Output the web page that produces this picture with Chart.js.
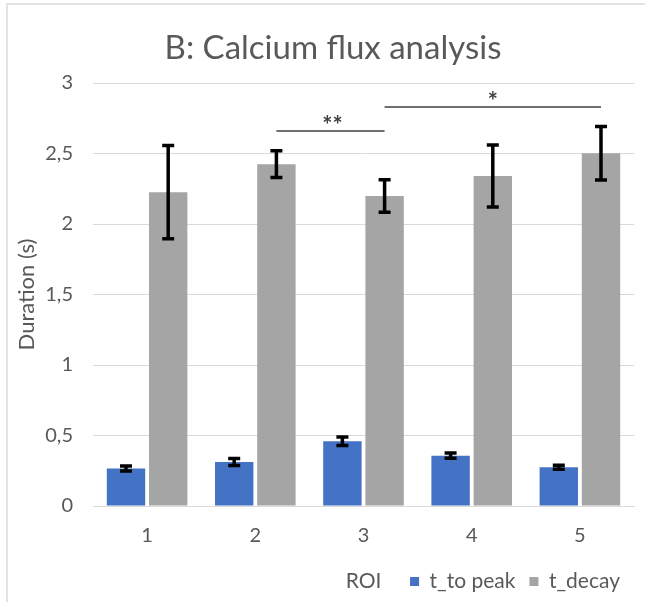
<!DOCTYPE html>
<html>
<head>
<meta charset="utf-8">
<script src="https://cdn.jsdelivr.net/npm/chart.js@4.4.1/dist/chart.umd.min.js"></script>
<style>
  html, body { margin: 0; padding: 0; background: #ffffff; }
  #wrap { position: absolute; left: 0; top: 0; width: 645px; height: 602px; }
  #frame { position: absolute; left: 6px; top: 3px; width: 645px; height: 610px;
           border-left: 2px solid #e3e3e3; border-top: 2px solid #e3e3e3; box-sizing: border-box; }
  canvas { position: absolute; left: 0; top: 0; }
</style>
</head>
<body>
<div id="wrap">
  <div id="frame"></div>
  <canvas id="c" width="645" height="602"></canvas>
</div>
<script>
// ROI categories
const roiLabels = ['1', '2', '3', '4', '5'];

// Mean durations (s)
const tToPeak = [0.266, 0.312, 0.459, 0.357, 0.275];
const tDecay  = [2.226, 2.424, 2.198, 2.340, 2.502];

// Symmetric error bar half-widths (s)
const tToPeakErr = [0.018, 0.024, 0.030, 0.019, 0.014];
const tDecayErr  = [0.330, 0.095, 0.115, 0.220, 0.190];

// Significance brackets: from category index to category index, at height (s)
const sigFrom   = [1, 2];
const sigTo     = [2, 4];
const sigLevel  = [2.663, 2.833];
const sigLabel  = ['**', '*'];

const chartTitle = 'B: Calcium flux analysis';
const xTitle = 'ROI';

const textGrey = '#595959';
const fontFam = 'Lato, "Open Sans", sans-serif';

const errorBarPlugin = {
  id: 'errorBars',
  afterDatasetsDraw(chart) {
    const ctx = chart.ctx;
    const y = chart.scales.y;
    const errs = [tToPeakErr, tDecayErr];
    ctx.save();
    ctx.strokeStyle = '#000000';
    ctx.lineWidth = 3.5;
    chart.data.datasets.forEach((ds, di) => {
      const meta = chart.getDatasetMeta(di);
      meta.data.forEach((bar, i) => {
        const v = ds.data[i];
        const e = errs[di][i];
        const x = bar.x;
        const yt = y.getPixelForValue(v + e);
        const yb = y.getPixelForValue(v - e);
        const cap = 6;
        ctx.beginPath();
        ctx.moveTo(x, yt); ctx.lineTo(x, yb);
        ctx.moveTo(x - cap, yt); ctx.lineTo(x + cap, yt);
        ctx.moveTo(x - cap, yb); ctx.lineTo(x + cap, yb);
        ctx.stroke();
      });
    });
    ctx.restore();
  }
};

const sigPlugin = {
  id: 'significance',
  afterDatasetsDraw(chart) {
    const ctx = chart.ctx;
    const y = chart.scales.y;
    const decayBars = chart.getDatasetMeta(1).data;
    ctx.save();
    ctx.strokeStyle = '#6f6f6f';
    ctx.lineWidth = 2;
    ctx.fillStyle = '#404040';
    ctx.font = 'bold 24px ' + fontFam;
    ctx.textAlign = 'center';
    ctx.textBaseline = 'middle';
    sigLabel.forEach((lab, k) => {
      const x1 = decayBars[sigFrom[k]].x;
      const x2 = decayBars[sigTo[k]].x;
      const py = Math.round(y.getPixelForValue(sigLevel[k]));
      ctx.beginPath();
      ctx.moveTo(x1, py); ctx.lineTo(x2, py);
      ctx.stroke();
      ctx.fillText(lab, (x1 + x2) / 2 + (lab === '**' ? 2 : 0), py - 5);
    });
    ctx.restore();
  }
};

// Chart title above the plot, and the "ROI" axis title on the legend row
const titlesPlugin = {
  id: 'titles',
  afterDraw(chart) {
    const ctx = chart.ctx;
    const ca = chart.chartArea;
    ctx.save();
    ctx.fillStyle = textGrey;
    ctx.textAlign = 'center';
    ctx.textBaseline = 'middle';
    ctx.font = '33px ' + fontFam;
    ctx.fillText(chartTitle, 333, 48);
    const lg = chart.legend;
    if (lg && lg.legendHitBoxes && lg.legendHitBoxes.length) {
      const hb = lg.legendHitBoxes[0];
      ctx.font = '21px ' + fontFam;
      ctx.fillText(xTitle, (ca.left + ca.right) / 2, hb.top + hb.height / 2);
    }
    ctx.restore();
  }
};

new Chart(document.getElementById('c'), {
  type: 'bar',
  data: {
    labels: roiLabels,
    datasets: [
      { label: 't_to peak', data: tToPeak, backgroundColor: '#4472c4',
        categoryPercentage: 0.78, barPercentage: 0.91 },
      { label: 't_decay', data: tDecay, backgroundColor: '#a5a5a5',
        categoryPercentage: 0.78, barPercentage: 0.91 }
    ]
  },
  options: {
    responsive: false,
    animation: false,
    layout: { padding: { left: 14, right: 11, top: 83, bottom: 0 } },
    plugins: {
      title: { display: false },
      legend: {
        position: 'bottom',
        align: 'end',
        labels: {
          color: textGrey,
          font: { family: fontFam, size: 21 },
          boxWidth: 9, boxHeight: 9,
          padding: 14
        }
      },
      tooltip: { enabled: false }
    },
    scales: {
      x: {
        grid: { display: false },
        border: { display: true, color: '#d9d9d9', width: 1 },
        ticks: { color: textGrey, font: { family: fontFam, size: 20 }, padding: 10 },
        afterFit: (scale) => { scale.height = 51; }
      },
      y: {
        min: 0, max: 3,
        ticks: {
          stepSize: 0.5,
          color: textGrey,
          font: { family: fontFam, size: 20 },
          padding: 20,
          callback: v => String(v).replace('.', ',')
        },
        grid: { color: '#d9d9d9', lineWidth: 1, drawTicks: false },
        border: { display: false },
        title: {
          display: true,
          text: 'Duration (s)',
          color: textGrey,
          font: { family: fontFam, size: 22 },
          padding: { top: 0, bottom: 0 }
        },
        afterFit: (scale) => { scale.width = 79; }
      }
    }
  },
  plugins: [errorBarPlugin, sigPlugin, titlesPlugin]
});
</script>
</body>
</html>
